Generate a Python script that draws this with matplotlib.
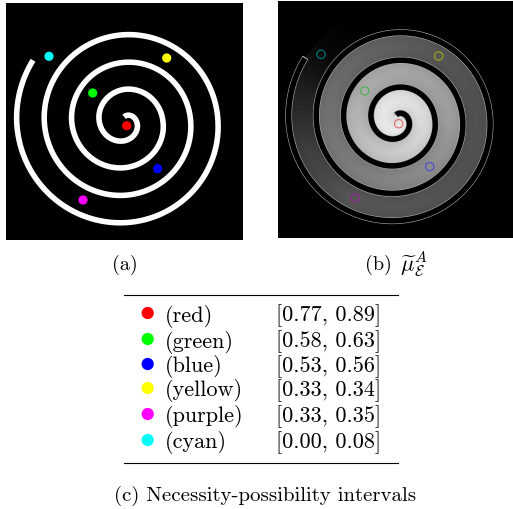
import numpy as np
import matplotlib
matplotlib.use('Agg')
import matplotlib.pyplot as plt
from matplotlib.patches import Rectangle

plt.rcParams['font.family'] = ['cmr10', 'DejaVu Sans']
plt.rcParams['mathtext.fontset'] = 'cm'
plt.rcParams['axes.unicode_minus'] = False

# table (c)
names = ['(red)', '(green)', '(blue)', '(yellow)', '(purple)', '(cyan)']
low = ['0.77', '0.58', '0.53', '0.33', '0.33', '0.00']
high = ['0.89', '0.63', '0.56', '0.34', '0.35', '0.08']
colors = ['#ff0000', '#00ff00', '#0000ff', '#ffff00', '#ff00ff', '#00ffff']
ring_colors = ['#e86a6a', '#4fb04f', '#4a4ad0', '#a8a820', '#9a209a', '#007f7f']

# dot positions, in pixels
dot_x = [126.7, 92.7, 157.7, 166.7, 83.0, 49.0]
dot_y = [125.7, 93.0, 168.7, 58.0, 200.0, 56.3]

# spiral radius every quarter turn
spiral_turn = [-0.27, 0, 0.25, 0.5, 0.75, 1, 1.25, 1.5, 1.75, 2, 2.25, 2.5, 2.75, 3, 3.25, 3.5, 3.594]
spiral_r = [5.0, 11.9, 18.9, 25.5, 32.5, 38.2, 45.9, 53.1, 59.5, 65.9, 73.5, 80.5, 87.1, 93.2, 100.9, 108.1, 110.5]
cx, cy = 124.8, 121.8
pitch = 27.4

# brightness along the corridor of panel (b)
corridor_turn = [-1.0, -0.3, 0.0, 0.3, 0.6, 1.0, 1.15, 1.5, 1.84, 2.0, 2.33, 2.45, 2.55, 2.62, 2.68]
corridor_gray = [0.9, 0.88, 0.84, 0.76, 0.66, 0.6, 0.54, 0.44, 0.33, 0.31, 0.33, 0.24, 0.12, 0.03, 0.0]


def wall(t):
    t = np.asarray(t, dtype=float)
    r = np.interp(t, spiral_turn, spiral_r)
    r = np.where(t > spiral_turn[-1], spiral_r[-1] + (t - spiral_turn[-1]) * pitch, r)
    r = np.where(t < spiral_turn[0], np.maximum(spiral_r[0] + (t - spiral_turn[0]) * pitch, 0), r)
    return r


def gray_field(x, y):
    dx, dy = x - cx, y - cy
    r = np.hypot(dx, dy)
    frac = (np.arctan2(dy, dx) / (2 * np.pi)) % 1
    k = np.full(r.shape, -1.0)
    for n in range(0, 5):
        k = np.where(r >= wall(frac + n), float(n), k)
    turn = frac + k
    f = np.clip((r - wall(turn)) / (wall(turn + 1) - wall(turn)), 0, 1)
    base = np.interp(turn, corridor_turn, corridor_gray)
    # lighter towards the walls
    edge = np.abs(2 * f - 1) ** 6
    return np.clip(base * (0.9 + 0.12 * np.sin(np.pi * f)) + 0.08 * edge * (base > 0.1), 0, 1)


t = np.linspace(spiral_turn[0], spiral_turn[-1], 1500)
rr = wall(t)
sx = cx + rr * np.cos(2 * np.pi * t)
sy = cy + rr * np.sin(2 * np.pi * t)

# the thin outline runs a little past the end of the wall
t_rim = np.linspace(spiral_turn[0] - 0.02, spiral_turn[-1] + 0.0015, 1500)
rim_r = wall(t_rim)
rim_x = cx + rim_r * np.cos(2 * np.pi * t_rim)
rim_y = cy + rim_r * np.sin(2 * np.pi * t_rim)

fig = plt.figure(figsize=(5.13, 5.09), dpi=100)
ax = fig.add_axes([0, 0, 1, 1])

# panel (a)
ax.add_patch(Rectangle((6, 3), 237, 237, color='black', lw=0, zorder=0))
ax.plot(sx, sy, color='white', lw=4.0, solid_capstyle='butt', zorder=1)
ax.scatter(dot_x, dot_y, s=44, c=colors, linewidths=0, zorder=2)

# panel (b), same coordinates shifted
shift_x, shift_y = 272, -2
gx, gy = np.meshgrid(np.arange(6, 243) + 0.5, np.arange(3, 240) + 0.5)
ax.imshow(gray_field(gx, gy), cmap='gray', vmin=0, vmax=1, aspect='auto',
          extent=(6 + shift_x, 243 + shift_x, 240 + shift_y, 3 + shift_y),
          interpolation='bilinear', zorder=0)
ax.plot(rim_x + shift_x, rim_y + shift_y, color='#b0b0b0', lw=4.8, solid_capstyle='butt', zorder=1)
ax.plot(sx + shift_x, sy + shift_y, color='black', lw=4.0, solid_capstyle='butt', zorder=1.1)
ax.scatter(np.array(dot_x) + shift_x, np.array(dot_y) + shift_y, s=36, facecolors='none',
           edgecolors=ring_colors, linewidths=0.8, zorder=2)

# captions
ax.text(125, 265, '(a)', fontsize=14.5, ha='center', va='center')
ax.text(365, 265, '(b)', fontsize=14.5, ha='left', va='center')
ax.text(400, 264, r'$\widetilde{\mu}_{\mathcal{E}}^{A}$', fontsize=16, ha='left', va='center')
ax.text(265, 496, '(c) Necessity-possibility intervals', fontsize=15, ha='center', va='center')

# table
row_y = [313, 339, 364, 388, 414, 440]
ax.plot([124, 398], [295, 295], color='black', lw=0.8)
ax.plot([124, 398], [463.3, 463.3], color='black', lw=0.8)
ax.scatter([147.7] * len(names), row_y, s=78, c=colors, linewidths=0, zorder=2)
for name, lo, hi, y in zip(names, low, high, row_y):
    ax.text(165, y + 3, name, fontsize=16, ha='left', va='center')
    ax.text(276.5, y + 3, '[' + lo + ', ' + hi + ']', fontsize=16, ha='left', va='center')

ax.set_xlim(0, 513)
ax.set_ylim(509, 0)
ax.axis('off')
fig.savefig('out.png', dpi=100)
